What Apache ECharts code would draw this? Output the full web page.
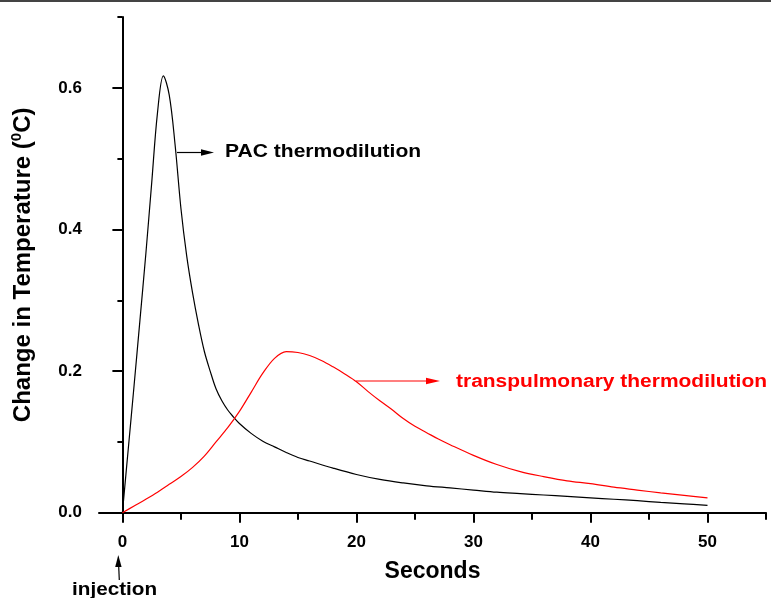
<!DOCTYPE html>
<html>
<head>
<meta charset="utf-8">
<script src="https://cdn.jsdelivr.net/npm/echarts@6/dist/echarts.min.js"></script>
<style>
html,body{margin:0;padding:0;background:#fff;}
#chart{width:771px;height:598px;}
</style>
</head>
<body>
<div id="chart"></div>
<script>
// ---- data ----
var pacTime = [0, 0.5, 1, 1.5, 2, 2.5, 3, 3.5, 4, 4.5, 5, 5.5, 6, 6.5, 7, 7.5, 8, 8.5, 9, 9.5, 10,
               11, 12, 13, 14, 15, 16, 18, 20, 22, 24, 26, 28, 30, 32, 34, 36, 38, 40, 42, 44, 46, 48, 50];
var pacTemp = [0, 0.09, 0.18, 0.272, 0.365, 0.465, 0.565, 0.617, 0.59, 0.52, 0.43, 0.362, 0.31, 0.266, 0.228, 0.2, 0.175, 0.158, 0.145, 0.135, 0.126,
               0.112, 0.101, 0.093, 0.085, 0.078, 0.073, 0.063, 0.054, 0.047, 0.042, 0.038, 0.035, 0.032, 0.029, 0.027, 0.025, 0.023, 0.021, 0.019, 0.017, 0.0145, 0.0125, 0.0104];
var tpTime = [0, 1, 2, 3, 4, 5, 6, 7, 8, 9, 10, 11, 12, 13, 14, 15, 16, 17, 18, 19, 20, 21, 22, 23, 24, 25, 26, 27, 28,
              30, 32, 34, 36, 38, 40, 42, 44, 46, 48, 50];
var tpTemp = [0, 0.0095, 0.019, 0.029, 0.04, 0.051, 0.064, 0.08, 0.1, 0.12, 0.143, 0.17, 0.197, 0.218, 0.2275, 0.2262, 0.222, 0.215, 0.206, 0.196, 0.185, 0.171, 0.158, 0.146, 0.133, 0.122, 0.113, 0.104, 0.096,
              0.081, 0.068, 0.058, 0.051, 0.045, 0.041, 0.036, 0.032, 0.028, 0.0245, 0.021];
var xMajorTicks = [0, 10, 20, 30, 40, 50];
var xMinorTicks = [5, 15, 25, 35, 45, 55];
var yMajorTicks = [0, 0.2, 0.4, 0.6];
var yMinorTicks = [0.1, 0.3, 0.5, 0.7];
var seriesNames = ['PAC thermodilution', 'transpulmonary thermodilution'];
var xTitle = 'Seconds';
var injectionLabel = 'injection';

function pairs(t, v) { return t.map(function (x, i) { return [x, v[i]]; }); }

var FONT = '"Liberation Sans", Arial, Helvetica, sans-serif';
var chart = echarts.init(document.getElementById('chart'), null, {renderer: 'canvas'});

var axisLineStyle = {color: '#000', width: 2};
var option = {
  animation: false,
  backgroundColor: '#fff',
  grid: {left: 99, top: 17, right: 5, bottom: 85.3, containLabel: false},
  xAxis: [{
    type: 'value', min: -2, max: 55, position: 'bottom',
    axisLine: {show: true, lineStyle: axisLineStyle},
    axisTick: {show: true, customValues: xMajorTicks, length: 10, inside: false, lineStyle: {color: '#000', width: 2}},
    axisLabel: {show: true, customValues: xMajorTicks, margin: 21, color: '#000', fontFamily: FONT, fontWeight: 'bold', fontSize: 17},
    splitLine: {show: false},
    name: xTitle, nameLocation: 'middle', nameGap: 47,
    nameTextStyle: {color: '#000', fontFamily: FONT, fontWeight: 'bold', fontSize: 23}
  }, {
    type: 'value', min: -2, max: 55, position: 'bottom',
    axisLine: {show: false},
    axisTick: {show: true, customValues: xMinorTicks, length: 7, inside: false, lineStyle: {color: '#000', width: 2}},
    axisLabel: {show: false},
    splitLine: {show: false}
  }],
  yAxis: [{
    type: 'value', min: 0, max: 0.7, position: 'left',
    axisLine: {show: true, lineStyle: axisLineStyle},
    axisTick: {show: true, customValues: yMajorTicks, length: 10, inside: false, lineStyle: {color: '#000', width: 2}},
    axisLabel: {show: true, customValues: yMajorTicks, margin: 17, color: '#000', fontFamily: FONT, fontWeight: 'bold', fontSize: 17,
      formatter: function (v) { return Number(v).toFixed(1); }},
    splitLine: {show: false},
    name: '{a|Change in Temperature (}{s|0}{a|C)}',
    nameLocation: 'middle', nameGap: 62, nameRotate: 90,
    nameTextStyle: {
      color: '#000', fontFamily: FONT, fontWeight: 'bold', fontSize: 24,
      rich: {
        a: {color: '#000', fontFamily: FONT, fontWeight: 'bold', fontSize: 24, lineHeight: 28},
        s: {color: '#000', fontFamily: FONT, fontWeight: 'bold', fontSize: 15, lineHeight: 14, verticalAlign: 'top'}
      }
    }
  }, {
    type: 'value', min: 0, max: 0.7, position: 'left',
    axisLine: {show: false},
    axisTick: {show: true, customValues: yMinorTicks, length: 5, inside: false, lineStyle: {color: '#000', width: 2}},
    axisLabel: {show: false},
    splitLine: {show: false}
  }],
  series: [{
    name: seriesNames[0], type: 'line', xAxisIndex: 0, yAxisIndex: 0,
    data: pairs(pacTime, pacTemp), showSymbol: false, symbol: 'none',
    smooth: 0.35,
    lineStyle: {color: '#000', width: 1.2}
  }, {
    name: seriesNames[1], type: 'line', xAxisIndex: 0, yAxisIndex: 0,
    data: pairs(tpTime, tpTemp), showSymbol: false, symbol: 'none',
    smooth: 0.35,
    lineStyle: {color: '#ff0000', width: 1.2}
  }],
  graphic: [
    {type: 'line', shape: {x1: 0, y1: 1, x2: 771, y2: 1}, style: {stroke: '#444', lineWidth: 2}},
    // PAC annotation
    {type: 'line', shape: {x1: 177, y1: 152.5, x2: 203, y2: 152.5}, style: {stroke: '#000', lineWidth: 1.2}},
    {type: 'polygon', shape: {points: [[201, 149.3], [214, 152.5], [201, 155.7]]}, style: {fill: '#000'}},
    {type: 'text', x: 225, y: 152, scaleX: 1.17, style: {text: seriesNames[0], fill: '#000', font: 'bold 18px ' + FONT, textAlign: 'left', textVerticalAlign: 'middle'}},
    // transpulmonary annotation
    {type: 'line', shape: {x1: 356, y1: 381, x2: 428, y2: 381}, style: {stroke: '#ff0000', lineWidth: 1.2}},
    {type: 'polygon', shape: {points: [[426, 377.7], [440, 381], [426, 384.3]]}, style: {fill: '#ff0000'}},
    {type: 'text', x: 456, y: 382, scaleX: 1.165, style: {text: seriesNames[1], fill: '#ff0000', font: 'bold 18px ' + FONT, textAlign: 'left', textVerticalAlign: 'middle'}},
    // injection annotation
    {type: 'line', shape: {x1: 119.3, y1: 580, x2: 118.6, y2: 564}, style: {stroke: '#000', lineWidth: 1.2}},
    {type: 'polygon', shape: {points: [[115.2, 567], [118.3, 555], [121.6, 567]]}, style: {fill: '#000'}},
    {type: 'text', x: 72, y: 590.5, scaleX: 1.15, style: {text: injectionLabel, fill: '#000', font: 'bold 18px ' + FONT, textAlign: 'left', textVerticalAlign: 'middle'}}
  ]
};
chart.setOption(option);
</script>
</body>
</html>
